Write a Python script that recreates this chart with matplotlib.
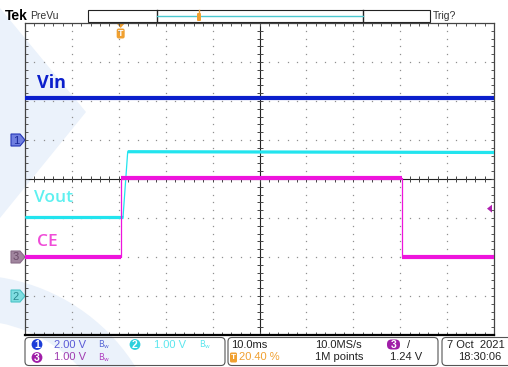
import numpy as np
import matplotlib
matplotlib.use("Agg")
import matplotlib.pyplot as plt
from matplotlib.patches import Polygon, FancyBboxPatch, Circle, Wedge

# --- scope settings ---
time_per_div = 10.0          # ms/div
trigger_pos = 0.204          # 20.40 % of record
t_start = -trigger_pos * 10 * time_per_div
t_end = t_start + 10 * time_per_div

# channel: volts/div, ground offset in divisions
ch1_scale, ch1_offset = 2.0, 1.0    # Vin
ch2_scale, ch2_offset = 1.0, -3.0   # Vout
ch3_scale, ch3_offset = 1.0, -2.0   # CE
trig_level = 1.24

# --- traces (time in ms, volts) ---
vin_t = [t_start, t_end]
vin_v = [2.16, 2.16]

vout_t = [t_start, 0.5, 1.5, 79.6]
vout_v = [2.02, 2.02, 3.70, 3.68]

ce_t = [t_start, 0.0, 0.0, 60.0, 60.0, t_end]
ce_v = [0.0, 0.0, 2.02, 2.02, 0.0, 0.0]

VIN_C = "#0b1fcc"
VOUT_C = "#22e4ee"
CE_C = "#ee14dc"
ORANGE = "#f0a030"
FONT = "Liberation Sans"
LABEL_FONT = "Open Sans"


def to_div(v, scale, offset):
    return np.asarray(v) / scale + offset


def trace(ax, t, v, color, lw_flat):
    t = np.asarray(t)
    ax.plot(t, v, color=color, lw=0.9, zorder=5)
    for i in range(len(t) - 1):
        if abs(v[i + 1] - v[i]) < 0.05:
            ax.plot(t[i:i + 2], v[i:i + 2], color=color, lw=lw_flat,
                    solid_capstyle="butt", zorder=5)


fig = plt.figure(figsize=(5.08, 3.67), dpi=100)

# background layer in pixel coordinates
bg = fig.add_axes([0, 0, 1, 1])
bg.set_xlim(0, 508)
bg.set_ylim(367, 0)
bg.axis("off")

# pale watermark
wm = "#ebf2fb"
bg.add_patch(Polygon([(0, 8), (86, 112), (0, 218)], closed=True,
                     facecolor=wm, edgecolor="none", zorder=0))
bg.add_patch(Wedge((-30, 470), 195, 180, 360, width=45,
                   facecolor=wm, edgecolor="none", zorder=0))

# main graticule
ax = fig.add_axes([25 / 508, 1 - 335 / 367, 469 / 508, 312 / 367])
ax.set_facecolor("none")
ax.set_xlim(t_start, t_end)
ax.set_ylim(-4, 4)
ax.set_xticks([])
ax.set_yticks([])
for s in ax.spines.values():
    s.set_color("#444444")
    s.set_linewidth(0.9)
ax.spines["bottom"].set_color("black")
ax.spines["bottom"].set_linewidth(1.6)

t_center = t_start + 5 * time_per_div
minor_x = np.arange(t_start, t_end + 0.01, time_per_div / 5)
minor_y = np.arange(-4, 4.01, 0.2)

# dotted grid
for k in range(1, 10):
    if k == 5:
        continue
    xg = t_start + k * time_per_div
    ax.plot(np.full_like(minor_y, xg), minor_y, ls="none", marker="s",
            ms=0.9, mew=0, color="#909090")
for j in range(-3, 4):
    if j == 0:
        continue
    ax.plot(minor_x, np.full_like(minor_x, j), ls="none", marker="s",
            ms=0.9, mew=0, color="#909090")

# centre cross with ticks
ax.axhline(0, color="#222222", lw=0.8)
ax.axvline(t_center, color="#222222", lw=0.8)
ax.plot(minor_x, np.zeros_like(minor_x), ls="none", marker="|", ms=5,
        mew=0.7, color="#444444")
ax.plot(np.full_like(minor_y, t_center), minor_y, ls="none", marker="_",
        ms=5, mew=0.7, color="#444444")
# edge ticks
for yy in (-4, 4):
    ax.plot(minor_x, np.full_like(minor_x, yy), ls="none", marker="|",
            ms=5, mew=0.7, color="#555555")
for xx in (t_start, t_end):
    ax.plot(np.full_like(minor_y, xx), minor_y, ls="none", marker="_",
            ms=5, mew=0.7, color="#555555")

# waveforms
trace(ax, vin_t, to_div(vin_v, ch1_scale, ch1_offset), VIN_C, 3.0)
trace(ax, vout_t, to_div(vout_v, ch2_scale, ch2_offset), VOUT_C, 2.3)
trace(ax, ce_t, to_div(ce_v, ch3_scale, ch3_offset), CE_C, 3.0)

# trace labels
bg.text(37, 83, "Vin", color=VIN_C, fontsize=13, fontweight="bold",
        family=LABEL_FONT, va="center", zorder=6)
bg.text(34, 198, "Vout", color="#5ef0f0", fontsize=12.5,
        family=LABEL_FONT, fontweight="semibold", va="center", zorder=6)
bg.text(37, 242, "CE", color="#f04cd8", fontsize=12.5,
        family=LABEL_FONT, fontweight="semibold", va="center", zorder=6)


def div_to_px(d):
    return 179 - 39 * d


# channel ground markers on the left
def gnd_marker(y, num, face, edge, txt):
    bg.add_patch(Polygon([(11, y - 6), (20, y - 6), (25, y), (20, y + 6),
                          (11, y + 6)], closed=True, facecolor=face,
                         edgecolor=edge, lw=0.8, zorder=4))
    bg.text(16, y + 0.5, num, color=txt, fontsize=8, family=FONT,
            ha="center", va="center", zorder=5)


gnd_marker(div_to_px(ch1_offset), "1", "#6f7fe0", "#2436b8", "#1a2a9a")
gnd_marker(div_to_px(ch3_offset), "3", "#a0859e", "#8a6c88", "#6a4c68")
gnd_marker(div_to_px(ch2_offset), "2", "#7fdde0", "#4cc4c8", "#2a8a90")

# trigger level marker on the right
ty = div_to_px(trig_level / ch3_scale + ch3_offset)
bg.add_patch(Polygon([(487, ty), (492, ty - 4), (492, ty + 4)], closed=True,
                     facecolor="#b020b0", edgecolor="none", zorder=6))

# trigger position marker at top
tx = 25 + trigger_pos * 469
bg.add_patch(Polygon([(tx - 3.5, 24), (tx + 3.5, 24), (tx, 28)], closed=True,
                     facecolor=ORANGE, edgecolor="none", zorder=6))
bg.add_patch(FancyBboxPatch((tx - 4, 28.5), 8, 10,
                            boxstyle="round,pad=0,rounding_size=2",
                            facecolor=ORANGE, edgecolor="none", zorder=6))
bg.text(tx, 33.8, "T", color="white", fontsize=6.5, fontweight="bold",
        family=FONT, ha="center", va="center", zorder=7)

# top bar
bg.text(5, 16, "Tek", color="black", fontsize=10, fontweight="bold",
        family=FONT, va="center")
bg.text(30, 16, "PreVu", color="#333333", fontsize=7.5, family=FONT,
        va="center")
bg.text(433, 16, "Trig?", color="#333333", fontsize=7.5, family=FONT,
        va="center")
bg.add_patch(plt.Rectangle((88, 10), 342, 12, facecolor="white",
                           edgecolor="#222222", lw=0.8, zorder=2))
bg.plot([157, 157], [10, 22], color="#222222", lw=1.0, zorder=3)
bg.plot([363, 363], [10, 22], color="#222222", lw=1.0, zorder=3)
bg.plot([157, 363], [15.5, 15.5], color="#4cc8d0", lw=1.0, zorder=3)
bg.add_patch(FancyBboxPatch((197, 13), 4, 8,
                            boxstyle="round,pad=0,rounding_size=1",
                            facecolor=ORANGE, edgecolor="none", zorder=4))
bg.plot([199, 199], [10, 13], color=ORANGE, lw=1.0, zorder=4)

# bottom readout boxes
for x0, w in [(25, 200), (228, 210), (442, 80)]:
    bg.add_patch(FancyBboxPatch((x0, 337.5), w, 28,
                                boxstyle="round,pad=0,rounding_size=4",
                                facecolor="none", edgecolor="#555555",
                                lw=0.8, zorder=3))

r1, r2 = 344.5, 357.5


def badge(x, y, num, color):
    bg.add_patch(Circle((x, y), 5.4, facecolor=color, edgecolor="none",
                        zorder=4))
    bg.text(x, y + 0.3, num, color="white", fontsize=7.5, family=FONT,
            fontweight="bold", ha="center", va="center", zorder=5)


def bw(x, y, color):
    bg.text(x, y, r"$\mathregular{B_w}$", color=color, fontsize=6,
            ha="center", va="center", zorder=5)


badge(37, r1, "1", "#1b3cd8")
bg.text(54, r1, "2.00 V", color="#5a5ad6", fontsize=8, family=FONT,
        va="center")
bw(104, r1, "#5a6ad6")
badge(135, r1, "2", "#2ed0dc")
bg.text(154, r1, "1.00 V", color="#5ce6ee", fontsize=8, family=FONT,
        va="center")
bw(205, r1, "#5ce6ee")
badge(37, r2, "3", "#a01ea8")
bg.text(54, r2, "1.00 V", color="#a03cb0", fontsize=8, family=FONT,
        va="center")
bw(104, r2, "#b040c0")

bg.text(231, r1, "10.0ms", color="#222222", fontsize=8, family=FONT,
        va="center")
bg.text(315, r1, "10.0MS/s", color="#222222", fontsize=8, family=FONT,
        va="center")
bg.add_patch(FancyBboxPatch((387, r1 - 5), 13, 10,
                            boxstyle="round,pad=0,rounding_size=4.5",
                            facecolor="#a01ea8", edgecolor="none", zorder=4))
bg.text(393.5, r1 + 0.3, "3", color="white", fontsize=7.5, family=FONT,
        fontweight="bold", ha="center", va="center", zorder=5)
bg.text(407, r1, "/", color="#222222", fontsize=8, family=FONT,
        va="center")
bg.add_patch(FancyBboxPatch((230, r2 - 5), 7, 10,
                            boxstyle="round,pad=0,rounding_size=1.5",
                            facecolor=ORANGE, edgecolor="none", zorder=4))
bg.text(233.5, r2 + 0.3, "T", color="white", fontsize=6, fontweight="bold",
        family=FONT, ha="center", va="center", zorder=5)
bg.text(239, r2, "20.40 %", color=ORANGE, fontsize=8, family=FONT,
        va="center")
bg.text(315, r2, "1M points", color="#222222", fontsize=8, family=FONT,
        va="center")
bg.text(390, r2, "1.24 V", color="#222222", fontsize=8, family=FONT,
        va="center")

bg.text(505, r1, "7 Oct  2021", color="#222222", fontsize=8, family=FONT,
        ha="right", va="center")
bg.text(458, r2, "18:30:06", color="#222222", fontsize=8, family=FONT,
        va="center")

fig.savefig("out.png", dpi=100)
